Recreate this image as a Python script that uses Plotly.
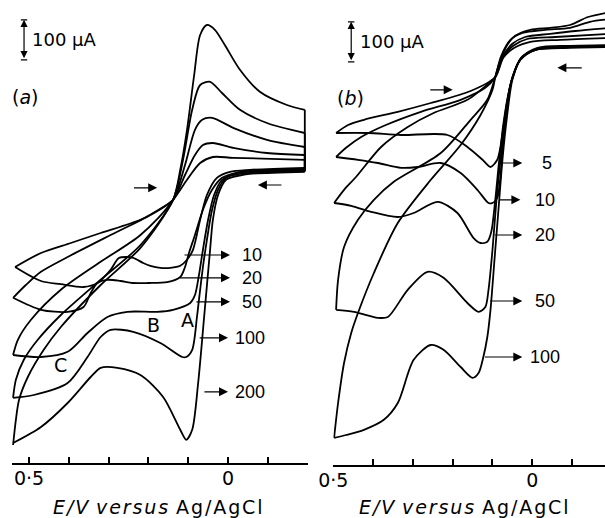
import plotly.graph_objects as go

# ---------------- data: E in mV vs Ag/AgCl, I in µA (offset: x-axis line = 0 µA)
# Panel (a): forward (upper) and reverse (lower) branches, scan rates in mV/s
A_RATES = [10, 20, 50, 100, 200]
A10_FWD = [(535,490),(470,525),(395,550),(320,575),(220,608),(163,640),(138,658),(103,708),(70,750),(38,765),(-13,763),(-193,758)]
A10_REV = [(-193,738),(-55,733),(-5,728),(28,713),(53,670),(70,608),(88,533),(103,508),(120,493),(145,488),(170,488),(195,493),(213,500),(238,513),(255,515),(275,512),(295,483),(328,450),(363,440),(420,447),(470,455),(535,490)]
A20_FWD = [(540,413),(508,445),(470,478),(403,515),(295,570),(195,620),(138,658),(108,720),(83,770),(63,795),(38,800),(-13,788),(-98,775),(-193,770)]
A20_REV = [(-193,735),(-55,730),(-18,725),(15,713),(40,683),(63,633),(83,570),(98,525),(108,490),(120,465),(153,452),(200,450),(240,450),(270,455),(303,458),(328,450),(345,425),(363,390),(403,378),(470,383),(540,413)]
A50_FWD = [(540,270),(528,308),(495,358),(420,433),(320,503),(220,570),(138,658),(108,745),(83,833),(65,858),(40,863),(-13,838),(-98,808),(-193,790)]
A50_REV = [(-193,733),(-55,728),(-25,725),(15,708),(35,670),(50,608),(63,533),(73,470),(83,420),(95,400),(138,383),(178,378),(253,378),(303,365),(353,325),(403,278),(470,265),(540,270)]
A100_FWD = [(540,163),(533,208),(513,258),(478,308),(420,370),(320,458),(220,545),(138,658),(113,758),(90,883),(70,945),(45,953),(15,925),(-30,883),(-98,850),(-193,825)]
A100_REV = [(-193,730),(-55,725),(-30,723),(5,713),(25,683),(40,633),(53,558),(63,490),(73,408),(78,365),(90,283),(105,265),(115,265),(170,300),(238,328),(295,333),(320,315),(353,265),(403,200),(488,170),(540,163)]
A200_FWD = [(540,45),(533,108),(525,158),(503,215),(463,283),(420,340),(320,445),(220,538),(138,658),(120,733),(103,833),(85,970),(70,1070),(53,1095),(33,1083),(8,1045),(-30,983),(-80,928),(-148,895),(-193,883)]
A200_REV = [(-193,728),(-55,723),(-35,720),(5,708),(25,670),(38,608),(45,533),(60,365),(75,200),(90,83),(105,58),(120,83),(163,165),(220,220),(278,238),(320,238),(345,215),(403,150),(470,90),(540,50)]

# Panel (b)
B_RATES = [5, 10, 20, 50, 100]
B5_FWD = [(493,830),(463,850),(423,863),(338,883),(255,905),(155,935),(93,970),(73,1018),(45,1043),(5,1058),(-70,1063),(-200,1068)]
B5_REV = [(-200,1050),(-95,1048),(-13,1043),(25,1020),(48,975),(63,913),(73,850),(80,795),(88,763),(105,745),(125,763),(163,795),(213,825),(330,825),(413,830),(493,830)]
B10_FWD = [(493,770),(468,793),(430,820),(368,850),(280,883),(180,913),(118,943),(93,970),(73,1020),(48,1048),(13,1065),(-58,1070),(-200,1078)]
B10_REV = [(-200,1048),(-95,1045),(-10,1040),(28,1018),(50,968),(65,888),(75,788),(80,720),(88,668),(100,655),(110,655),(138,688),(180,730),(230,755),(288,745),(330,743),(388,755),(438,763),(493,770)]
B20_FWD = [(498,655),(473,688),(443,720),(380,795),(313,845),(248,880),(163,913),(100,963),(93,970),(75,1020),(50,1053),(18,1070),(-45,1078),(-108,1085),(-200,1093)]
B20_REV = [(-200,1048),(-95,1045),(-8,1038),(30,1013),(55,950),(70,863),(83,763),(93,663),(103,583),(113,558),(130,555),(148,568),(188,630),(238,658),(298,630),(338,620),(405,633),(455,648),(498,655)]
B50_FWD = [(493,388),(488,463),(473,545),(438,613),(398,663),(348,708),(230,780),(155,863),(113,913),(93,970),(78,1023),(55,1063),(25,1080),(-33,1088),(-95,1093),(-145,1108),(-200,1115)]
B50_REV = [(-200,1045),(-95,1045),(-8,1038),(30,1013),(53,958),(68,863),(80,763),(90,663),(100,538),(110,438),(118,395),(135,383),(163,405),(223,468),(263,483),(313,438),(363,370),(388,368),(448,383),(493,388)]
B100_FWD = [(498,68),(488,155),(473,255),(455,330),(438,380),(398,480),(338,605),(255,713),(180,800),(130,875),(100,938),(93,970),(80,1013),(63,1050),(43,1073),(5,1088),(-45,1093),(-95,1100),(-140,1120),(-200,1133)]
B100_REV = [(-200,1045),(-95,1043),(-8,1038),(28,1018),(50,963),(63,875),(75,763),(85,638),(95,513),(105,388),(113,320),(123,270),(135,230),(150,218),(180,245),(223,288),(255,300),(298,263),(338,155),(373,113),(423,88),(468,75),(498,68)]

# label positions: (rate, arrow tail E, arrow head E, I, text-left E)
A_LABELS = [(10,113,-5,520,-30),(20,125,-5,463,-30),(50,83,-5,403,-30),(100,75,0,313,-13),(200,63,0,178,-13)]
B_LABELS = [(5,85,25,755,-20),(10,85,30,663,-3),(20,98,25,575,-3),(50,110,25,410,-3),(100,123,25,270,10)]
SCALE_UA = 100

A_LOOPS = [(A10_FWD, A10_REV), (A20_FWD, A20_REV), (A50_FWD, A50_REV), (A100_FWD, A100_REV), (A200_FWD, A200_REV)]
B_LOOPS = [(B5_FWD, B5_REV), (B10_FWD, B10_REV), (B20_FWD, B20_REV), (B50_FWD, B50_REV), (B100_FWD, B100_REV)]

FONT = "DejaVu Sans"
NUMFONT = "Liberation Sans"
LW = 1.8
HS = "\u200a"
fig = go.Figure()

def add_loop(fwd, rev, xa, ya):
    for branch in (fwd, rev):
        fig.add_trace(go.Scatter(x=[p[0] / 1000 for p in branch], y=[p[1] for p in branch],
                                 mode="lines", line=dict(color="black", width=LW, shape="spline", smoothing=0.8),
                                 xaxis=xa, yaxis=ya, hoverinfo="skip"))
    end = [fwd[-1], rev[0]]
    fig.add_trace(go.Scatter(x=[p[0] / 1000 for p in end], y=[p[1] for p in end], mode="lines",
                             line=dict(color="black", width=LW), xaxis=xa, yaxis=ya, hoverinfo="skip"))

for f, r in A_LOOPS:
    add_loop(f, r, "x", "y")
for f, r in B_LOOPS:
    add_loop(f, r, "x2", "y2")

ann = []
def arrow(xh, xt, y, xr, yr):
    ann.append(dict(x=xh / 1000, y=y, ax=xt / 1000, ay=y, xref=xr, yref=yr, axref=xr, ayref=yr,
                    showarrow=True, arrowhead=2, arrowsize=1.5, arrowwidth=1.2, arrowcolor="black", text=""))

def label(x, y, t, xr, yr, size=17, anchor="left", family=FONT):
    ann.append(dict(x=x, y=y, xref=xr, yref=yr, text=t, showarrow=False, xanchor=anchor, yanchor="middle",
                    font=dict(family=family, size=size, color="black")))

for rate, xt, xh, yy, xl in A_LABELS:
    arrow(xh, xt, yy, "x", "y")
    label(xl / 1000, yy, str(rate), "x", "y", 18, "left", NUMFONT)
for rate, xt, xh, yy, xl in B_LABELS:
    arrow(xh, xt, yy, "x2", "y2")
    label(xl / 1000, yy, str(rate), "x2", "y2", 18, "left", NUMFONT)

# scan direction arrows
arrow(178, 240, 688, "x", "y")
arrow(-75, -138, 695, "x", "y")
arrow(200, 260, 938, "x2", "y2")
arrow(-63, -128, 993, "x2", "y2")

# peak letters
label(0.1025, 358, "A", "x", "y", 19, "center")
label(0.1875, 345, "B", "x", "y", 19, "center")
label(0.420, 245, "C", "x", "y", 19, "center")

# scale bars
shapes = []
for xr, yr, xe, y0 in (("x", "y", 0.5125, 1008), ("x2", "y2", 0.455, 1008)):
    ann.append(dict(x=xe, y=y0 + SCALE_UA, ax=xe, ay=y0, xref=xr, yref=yr, axref=xr, ayref=yr, showarrow=True,
                    arrowhead=2, arrowside="end+start", arrowsize=1.2, arrowwidth=1.2, arrowcolor="black", text=""))
    for yy in (y0, y0 + SCALE_UA):
        shapes.append(dict(type="line", xref=xr, yref=yr, x0=xe - 0.008, x1=xe + 0.008, y0=yy, y1=yy,
                           line=dict(color="black", width=1.2)))
    label(xe - 0.016, y0 + SCALE_UA / 2, "100 µA", xr, yr, 18)

# panel letters
label(10 / 605, 1 - 97 / 518, "(<i>a</i>)", "paper", "paper", 19)
label(335 / 605, 1 - 98 / 518, "(<i>b</i>)", "paper", "paper", 19)

# axis titles
title_txt = "<i>" + HS.join("E/V") + HS + " " + HS.join("versus") + "</i>" + HS + " " + HS.join("Ag/AgCl")
for cx in (158 / 605, 464 / 605):
    label(cx, 1 - 507 / 518, title_txt, "paper", "paper", 19, "center")

ax_common = dict(showline=True, linecolor="black", linewidth=1.6, ticks="inside", ticklen=6, tickwidth=1.5,
                 tickcolor="black", showgrid=False, zeroline=False, automargin=False,
                 tickfont=dict(family=FONT, size=19, color="black"),
                 tickvals=[0.5, 0.4, 0.3, 0.2, 0.1, 0.0, -0.1], ticktext=["0·5", "", "", "", "", "0", ""],
                 ticklabelstandoff=-3)
fig.update_layout(
    template="none",
    width=605, height=518, margin=dict(l=0, r=0, t=0, b=0, pad=0), showlegend=False,
    plot_bgcolor="white", paper_bgcolor="white",
    xaxis=dict(domain=[11.7 / 605, 307.6 / 605], range=[0.5435, -0.2], anchor="y", **ax_common),
    yaxis=dict(domain=[1 - 463 / 518, 1], range=[0, 1157.5], visible=False, automargin=False),
    xaxis2=dict(domain=[333.3 / 605, 1], range=[0.5, -0.1827], anchor="y2", **ax_common),
    yaxis2=dict(domain=[1 - 465 / 518, 1], range=[0, 1162.5], visible=False, automargin=False),
    annotations=ann, shapes=shapes,
)
fig.write_html("out.html")
